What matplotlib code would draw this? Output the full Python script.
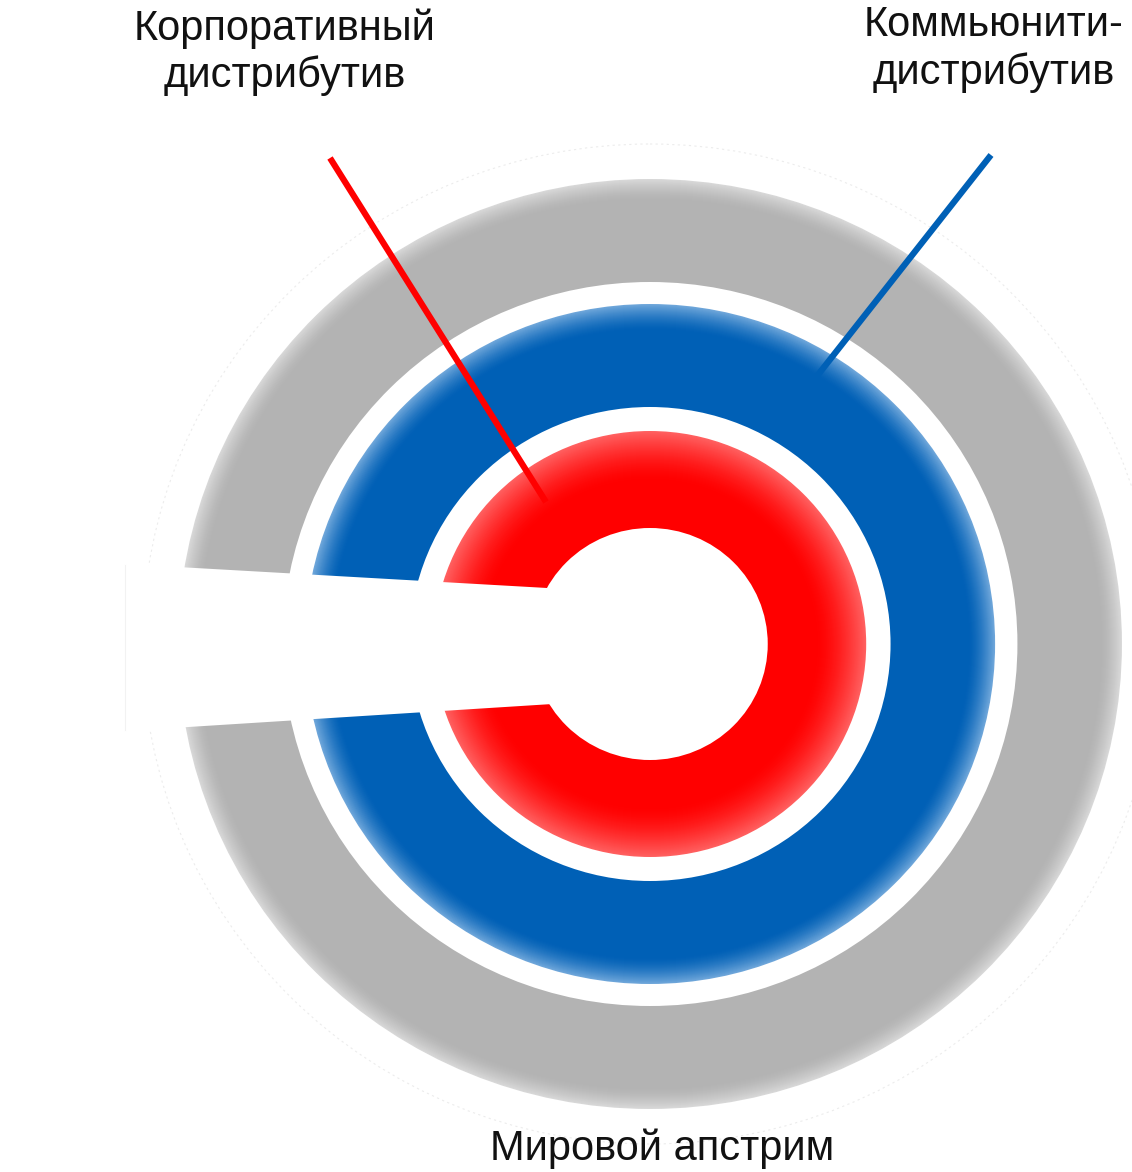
import numpy as np
import matplotlib
matplotlib.use("Agg")
import matplotlib.pyplot as plt
from matplotlib.patches import Ellipse, Polygon

plt.rcParams['font.family'] = ['Liberation Sans', 'DejaVu Sans']

# rings, outermost first
ring_names = ["Мировой апстрим", "Коммьюнити-дистрибутив", "Корпоративный дистрибутив"]
ring_outer = [465, 340, 213]
ring_inner = [362, 237, 116]
ring_base = ["#b3b3b3", "#0060b6", "#ff0000"]
ring_edge = ["#d8d8d8", "#6ea6da", "#ff6060"]
ring_fade = [0.80, 0.75, 0.50]   # where the light outer edge starts

labels = ["Корпоративный\nдистрибутив", "Коммьюнити-\nдистрибутив", "Мировой апстрим"]
label_xy = [(285, 52), (994, 49), (662, 1149)]

# pointer lines: (x0, y0, x1, y1)
pointers = [(330, 158, 546, 502), (991, 155, 806, 390)]
pointer_colors = ["#ff0000", "#0060b6"]

cx, cy = 650, 644
sx = 1.015  # rings are a touch wider than tall

W, H = 1132, 1172
fig = plt.figure(figsize=(W / 100, H / 100), dpi=100)
ax = fig.add_axes([0, 0, 1, 1])
ax.set_xlim(0, W)
ax.set_ylim(H, 0)
ax.set_aspect("equal")
ax.axis("off")


def ring(r, **kw):
    return Ellipse((cx, cy), 2 * r * sx, 2 * r, **kw)


# faint guide circle around everything
ax.add_patch(ring(500, fill=False, ec="#ececec", lw=0.8, ls=(0, (2, 3))))


def mix(c1, c2, t):
    a = np.array(matplotlib.colors.to_rgb(c1))
    b = np.array(matplotlib.colors.to_rgb(c2))
    return tuple(a + (b - a) * t)


z = 1
for r_out, r_in, base, edge, fade in zip(ring_outer, ring_inner, ring_base, ring_edge, ring_fade):
    radii = np.arange(r_out, r_in, -1.0)
    for r in radii:
        t = (r - r_in) / (r_out - r_in)
        if t > fade:
            k = (t - fade) / (1 - fade)
            col = mix(base, edge, k ** 1.5)
        else:
            col = matplotlib.colors.to_rgb(base)
        ax.add_patch(ring(r, color=col, lw=0, zorder=z))
    ax.add_patch(ring(r_in, color="white", lw=0, zorder=z + 0.5))
    z += 1

# white cut on the left
cut = [(125, 564), (600, 591), (600, 701), (125, 731)]
ax.add_patch(Polygon(cut, closed=True, fc="white", ec="none", zorder=10))
ax.plot([125, 125], [565, 730], color="#f2f2f2", lw=0.8, zorder=10.5)

for (x0, y0, x1, y1), c in zip(pointers, pointer_colors):
    ax.plot([x0, x1], [y0, y1], color=c, lw=4.5, solid_capstyle="butt", zorder=11)

for txt, (x, y) in zip(labels, label_xy):
    ax.text(x, y, txt, ha="center", va="center", fontsize=30, color="#111111",
            linespacing=1.2, zorder=12)

fig.savefig("out.png", dpi=100, facecolor="white")
